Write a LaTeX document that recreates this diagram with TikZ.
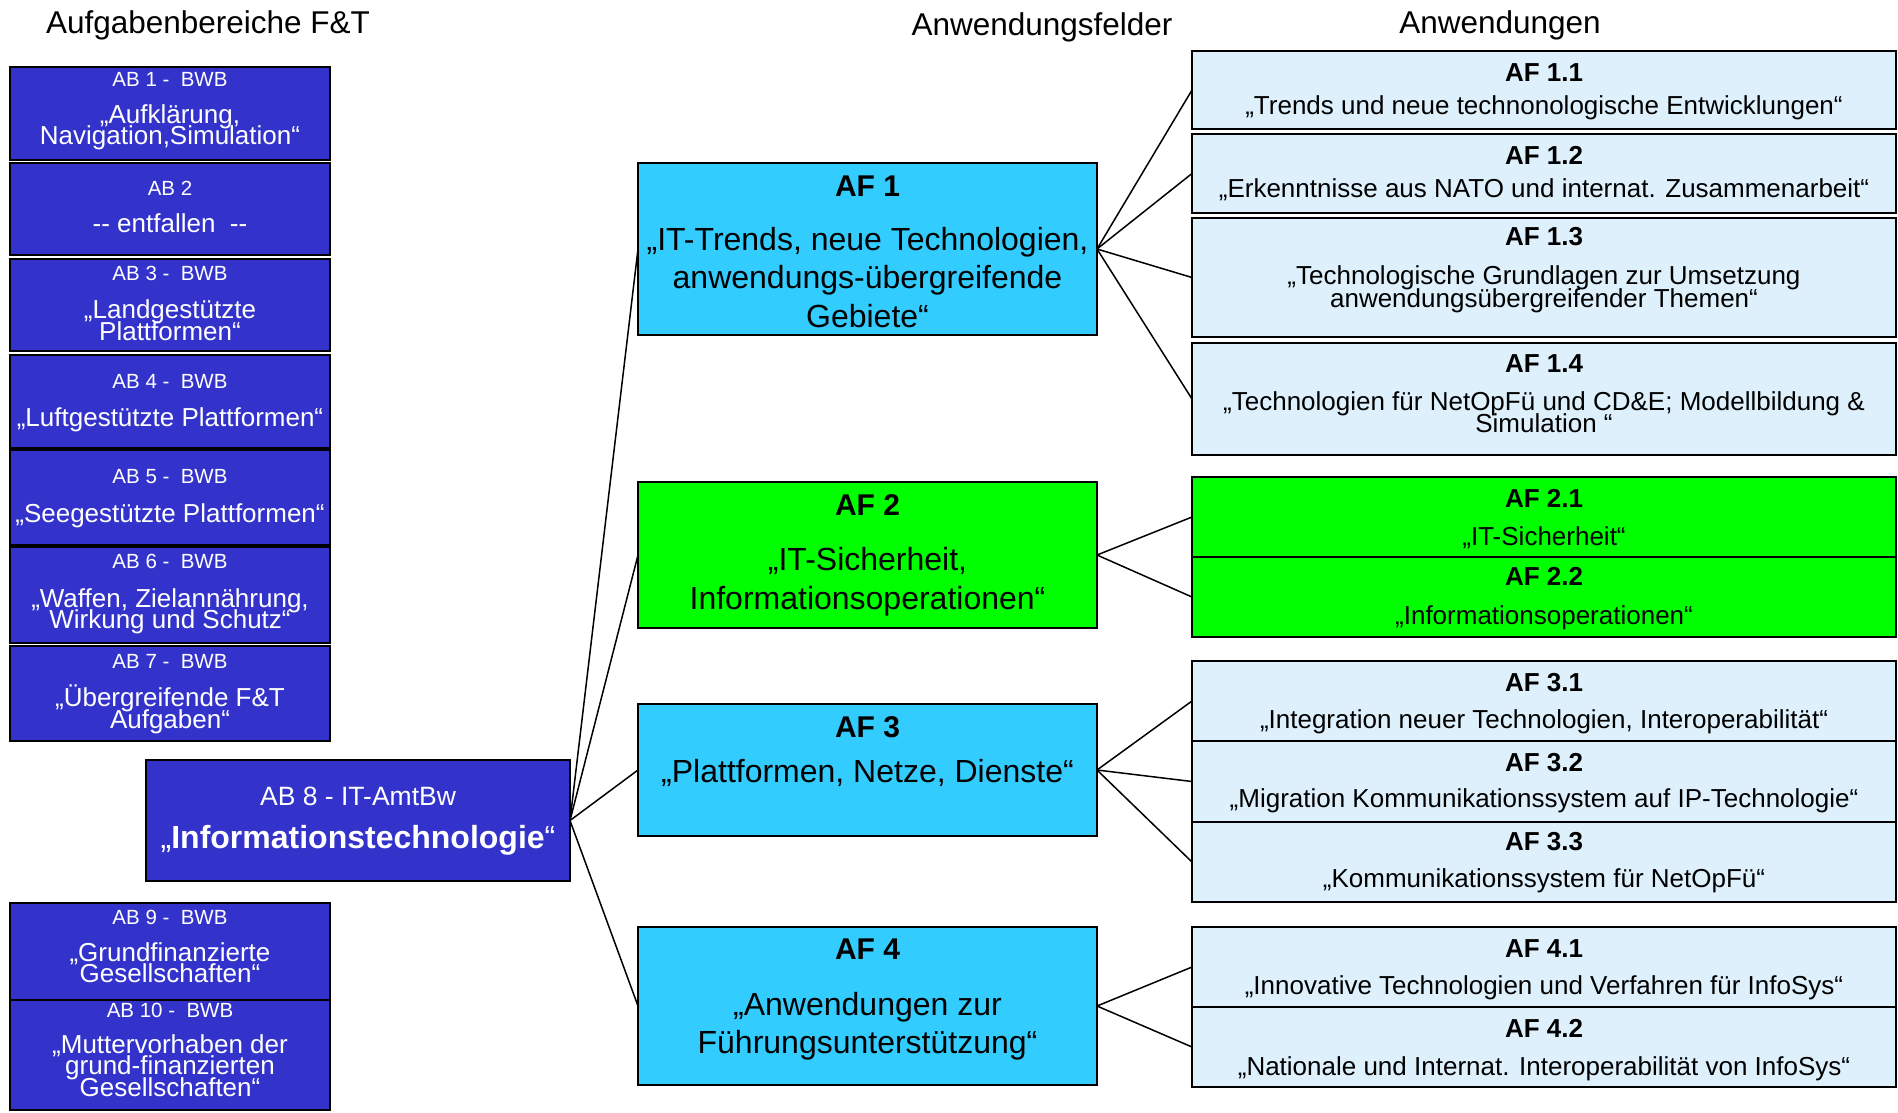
\documentclass[tikz,border=0pt]{standalone}
\usepackage{fontspec}
\setmainfont{Liberation Sans}
\definecolor{abblue}{RGB}{51,51,204}
\definecolor{afcyan}{RGB}{51,204,255}
\definecolor{afgreen}{RGB}{0,255,0}
\definecolor{sublight}{RGB}{221,240,252}
\tikzset{
  boxbase/.style={draw=black, line width=2, inner sep=0, outer sep=0},
  abbox/.style={boxbase, fill=abblue, minimum width=320},
  afbox/.style={boxbase, fill=afcyan, minimum width=459},
  afgbox/.style={boxbase, fill=afgreen, minimum width=459},
  subbox/.style={boxbase, fill=sublight, minimum width=704},
  subgbox/.style={boxbase, fill=afgreen, minimum width=704},
  txt/.style={anchor=base, inner sep=0, outer sep=0},
  ttl/.style={txt, font=\fontsize{31.5}{32}\selectfont},
  abh/.style={txt, text=white, font=\fontsize{20.5}{21}\selectfont},
  abt/.style={txt, text=white, font=\fontsize{26}{26}\selectfont},
  abeh/.style={txt, text=white, font=\fontsize{26.5}{27}\selectfont},
  abeb/.style={txt, text=white, font=\fontsize{32}{32}\selectfont},
  afh/.style={txt, font=\fontsize{30}{30}\bfseries\selectfont},
  aft/.style={txt, font=\fontsize{32}{32}\selectfont},
  subh/.style={txt, font=\fontsize{26}{26}\bfseries\selectfont},
  subt/.style={txt, font=\fontsize{26}{26}\selectfont},
  conn/.style={line width=1.5, black}
}
\begin{document}
\begin{tikzpicture}[x=1pt,y=-1pt]
\useasboundingbox (0,0) rectangle (1898,1112);

% titles
\node[ttl] (t1) at (208,33) {Aufgabenbereiche F\&T};
\node[ttl] (t2) at (1042,35) {Anwendungsfelder};
\node[ttl] (t3) at (1500,33) {Anwendungen};

% AB boxes
\node[abbox, minimum height=93] (ab1) at (170,113.5) {};
\node[abbox, minimum height=92] (ab2) at (170,209) {};
\node[abbox, minimum height=92] (ab3) at (170,305) {};
\node[abbox, minimum height=93] (ab4) at (170,401.5) {};
\node[abbox, minimum height=95] (ab5) at (170,497.5) {};
\node[abbox, minimum height=96] (ab6) at (170,595) {};
\node[abbox, minimum height=95] (ab7) at (170,693.5) {};
\node[boxbase, fill=abblue, minimum width=424, minimum height=121] (ab8) at (358,820.5) {};
\node[abbox, minimum height=97] (ab9) at (170,951.5) {};
\node[abbox, minimum height=110] (ab10) at (170,1055) {};

\node[abh] (ab1h) at (170,86) {AB 1 -\ \ BWB};
\node[abt] (ab1a) at (170,123) {„Aufklärung,};
\node[abt] (ab1b) at (170,144) {Navigation,Simulation“};
\node[abh] (ab2h) at (170,195) {AB 2};
\node[abt] (ab2a) at (170,232) {-{}- entfallen\ \ -{}-};
\node[abh] (ab3h) at (170,280) {AB 3 -\ \ BWB};
\node[abt] (ab3a) at (170,318) {„Landgestützte};
\node[abt] (ab3b) at (170,340) {Plattformen“};
\node[abh] (ab4h) at (170,388) {AB 4 -\ \ BWB};
\node[abt] (ab4a) at (170,426) {„Luftgestützte Plattformen“};
\node[abh] (ab5h) at (170,483) {AB 5 -\ \ BWB};
\node[abt] (ab5a) at (170,522) {„Seegestützte Plattformen“};
\node[abh] (ab6h) at (170,568) {AB 6 -\ \ BWB};
\node[abt] (ab6a) at (170,607) {„Waffen, Zielannährung,};
\node[abt] (ab6b) at (170,628) {Wirkung und Schutz“};
\node[abh] (ab7h) at (170,668) {AB 7 -\ \ BWB};
\node[abt] (ab7a) at (170,706) {„Übergreifende F\&T};
\node[abt] (ab7b) at (170,728) {Aufgaben“};
\node[abeh] (ab8h) at (358,805) {AB 8 - IT-AmtBw};
\node[abeb] (ab8a) at (358,848) {„\textbf{Informationstechnologie}“};
\node[abh] (ab9h) at (170,924) {AB 9 -\ \ BWB};
\node[abt] (ab9a) at (170,961) {„Grundfinanzierte};
\node[abt] (ab9b) at (170,982) {Gesellschaften“};
\node[abh] (ab10h) at (170,1017) {AB 10 -\ \ BWB};
\node[abt] (ab10a) at (170,1053) {„Muttervorhaben der};
\node[abt] (ab10b) at (170,1074) {grund-finanzierten};
\node[abt] (ab10c) at (170,1096) {Gesellschaften“};

% AF boxes
\node[afbox, minimum height=172] (af1) at (867.5,249) {};
\node[afgbox, minimum height=146] (af2) at (867.5,555) {};
\node[afbox, minimum height=132] (af3) at (867.5,770) {};
\node[afbox, minimum height=158] (af4) at (867.5,1006) {};

\node[afh] (af1h) at (867.5,196) {AF 1};
\node[aft] (af1a) at (867.5,250) {„IT-Trends, neue Technologien,};
\node[aft] (af1b) at (867.5,288) {anwendungs-übergreifende};
\node[aft] (af1c) at (867.5,327) {Gebiete“};
\node[afh] (af2h) at (867.5,515) {AF 2};
\node[aft] (af2a) at (867.5,570) {„IT-Sicherheit,};
\node[aft] (af2b) at (867.5,609) {Informationsoperationen“};
\node[afh] (af3h) at (867.5,737) {AF 3};
\node[aft] (af3a) at (867.5,782) {„Plattformen, Netze, Dienste“};
\node[afh] (af4h) at (867.5,959) {AF 4};
\node[aft] (af4a) at (867.5,1015) {„Anwendungen zur};
\node[aft] (af4b) at (867.5,1053) {Führungsunterstützung“};

% sub boxes
\node[subbox, minimum height=78] (af11) at (1544,90) {};
\node[subbox, minimum height=79] (af12) at (1544,173.5) {};
\node[subbox, minimum height=119] (af13) at (1544,277.5) {};
\node[subbox, minimum height=112] (af14) at (1544,399) {};
\node[subgbox, minimum height=80] (af21) at (1544,517) {};
\node[subgbox, minimum height=80] (af22) at (1544,597) {};
\node[subbox, minimum height=80] (af31) at (1544,701) {};
\node[subbox, minimum height=81] (af32) at (1544,781.5) {};
\node[subbox, minimum height=80] (af33) at (1544,862) {};
\node[subbox, minimum height=80] (af41) at (1544,967) {};
\node[subbox, minimum height=80] (af42) at (1544,1047) {};

\node[subh] (af11h) at (1544,81) {AF 1.1};
\node[subt] (af11a) at (1544,114) {„Trends und neue technonologische Entwicklungen“};
\node[subh] (af12h) at (1544,164) {AF 1.2};
\node[subt] (af12a) at (1544,197) {„Erkenntnisse aus NATO und internat. Zusammenarbeit“};
\node[subh] (af13h) at (1544,245) {AF 1.3};
\node[subt] (af13a) at (1544,284) {„Technologische Grundlagen zur Umsetzung};
\node[subt] (af13b) at (1544,307) {anwendungsübergreifender Themen“};
\node[subh] (af14h) at (1544,372) {AF 1.4};
\node[subt] (af14a) at (1544,410) {„Technologien für NetOpFü und CD\&E; Modellbildung \&};
\node[subt] (af14b) at (1544,432) {Simulation “};
\node[subh] (af21h) at (1544,507) {AF 2.1};
\node[subt] (af21a) at (1544,545) {„IT-Sicherheit“};
\node[subh] (af22h) at (1544,585) {AF 2.2};
\node[subt] (af22a) at (1544,624) {„Informationsoperationen“};
\node[subh] (af31h) at (1544,691) {AF 3.1};
\node[subt] (af31a) at (1544,728) {„Integration neuer Technologien, Interoperabilität“};
\node[subh] (af32h) at (1544,771) {AF 3.2};
\node[subt] (af32a) at (1544,807) {„Migration Kommunikationssystem auf IP-Technologie“};
\node[subh] (af33h) at (1544,850) {AF 3.3};
\node[subt] (af33a) at (1544,887) {„Kommunikationssystem für NetOpFü“};
\node[subh] (af41h) at (1544,957) {AF 4.1};
\node[subt] (af41a) at (1544,994) {„Innovative Technologien und Verfahren für InfoSys“};
\node[subh] (af42h) at (1544,1037) {AF 4.2};
\node[subt] (af42a) at (1544,1075) {„Nationale und Internat. Interoperabilität von InfoSys“};

% connectors
\foreach \t in {af1,af2,af3,af4} \draw[conn] (ab8.east) -- (\t.west);
\foreach \t in {af11,af12,af13,af14} \draw[conn] (af1.east) -- (\t.west);
\foreach \t in {af21,af22} \draw[conn] (af2.east) -- (\t.west);
\foreach \t in {af31,af32,af33} \draw[conn] (af3.east) -- (\t.west);
\foreach \t in {af41,af42} \draw[conn] (af4.east) -- (\t.west);
\end{tikzpicture}
\end{document}
